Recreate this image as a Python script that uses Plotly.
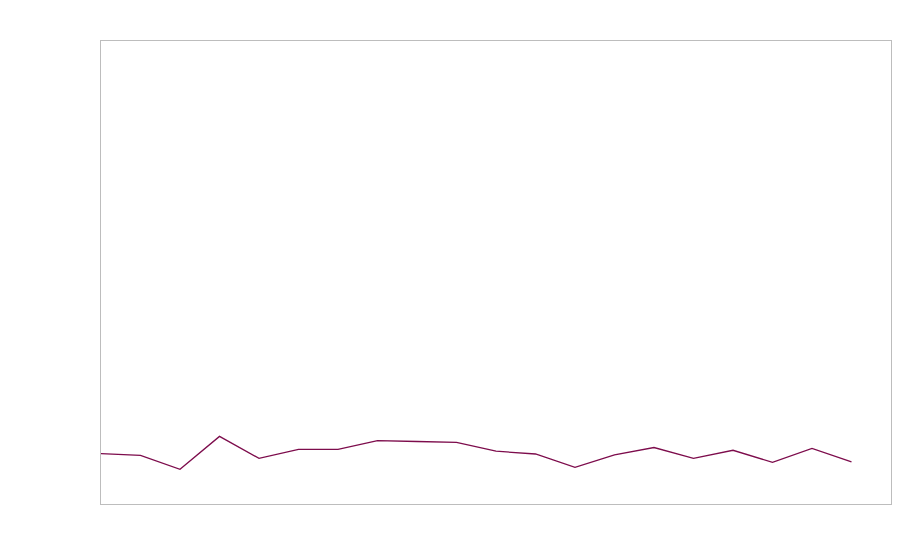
import plotly.graph_objects as go

x_vals = list(range(20))
y_vals = [10.9, 10.5, 7.5, 14.6, 9.85, 11.8, 11.8, 13.7, 13.5, 13.3,
          11.4, 10.8, 7.9, 10.6, 12.2, 9.85, 11.6, 9.0, 12.0, 9.1]

fig = go.Figure()
fig.add_trace(go.Scatter(x=x_vals, y=y_vals, mode="lines",
                         line=dict(color="#7d0c4c", width=1.3),
                         showlegend=False, hoverinfo="skip"))

axis_common = dict(showgrid=False, zeroline=False, showticklabels=False,
                   ticks="", showline=True, linecolor="#bdbdbd", linewidth=1,
                   mirror=True)
fig.update_layout(
    width=892, height=544,
    margin=dict(l=93, r=9, t=33, b=48),
    paper_bgcolor="white", plot_bgcolor="white",
    xaxis=dict(range=[0, 20], **axis_common),
    yaxis=dict(range=[0, 100], **axis_common),
)
fig.write_html("out.html")
